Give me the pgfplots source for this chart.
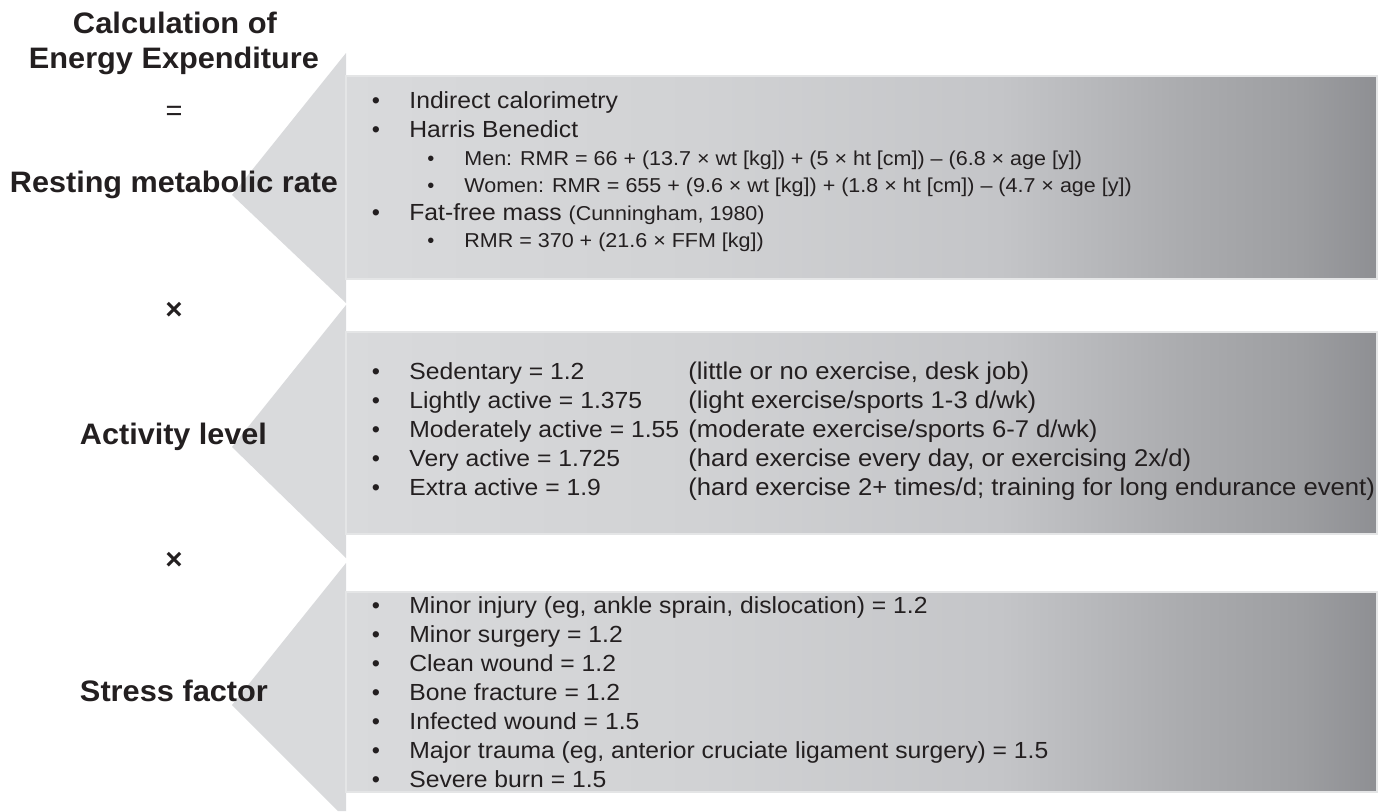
\documentclass[border=0pt]{standalone}
\usepackage{fontspec}
\setmainfont{Liberation Sans}
\usepackage{graphicx}
\usepackage{pgfplots}
\pgfplotsset{compat=1.18}
\definecolor{headgray}{HTML}{D9DADC}
\definecolor{edgegray}{HTML}{E4E5E6}
\definecolor{ga}{HTML}{D9DADC}
\definecolor{gb}{HTML}{D1D2D4}
\definecolor{gc}{HTML}{C4C5C8}
\definecolor{gd}{HTML}{B9BABD}
\definecolor{ge}{HTML}{ABACAF}
\definecolor{gf}{HTML}{9D9EA1}
\definecolor{gg}{HTML}{8E8F93}
\definecolor{txt}{HTML}{231F20}
\pgfdeclarehorizontalshading{bodyshade}{100bp}{color(0bp)=(ga); color(25bp)=(ga); color(42bp)=(gb); color(56.7bp)=(gc); color(60.6bp)=(gd); color(65.4bp)=(ge); color(71.3bp)=(gf); color(75bp)=(gg); color(100bp)=(gg)}
\newcommand{\bodyf}{\fontsize{11.65}{13}\selectfont}
\newcommand{\subf}{\fontsize{10.05}{12}\selectfont}
\newcommand{\colf}{\fontsize{12.1}{14}\selectfont}
\newcommand{\titf}{\fontsize{14.8}{18}\selectfont\bfseries}
% main-level line, sub-level line, second column line (slightly wide face)
\newcommand{\LT}[1]{\scalebox{1.06}[1]{\bodyf #1}}
\newcommand{\ST}[1]{\scalebox{1.07}[1]{\subf #1}}
\newcommand{\CT}[1]{\scalebox{1.06}[1]{\colf #1}}
\newcommand{\TT}[2]{\resizebox{#1}{\height}{\titf #2}}
\begin{document}
\begin{tikzpicture}
\begin{axis}[width=691.5pt, height=405.5pt, scale only axis,
  xmin=0, xmax=1383, ymin=0, ymax=811, y dir=reverse,
  hide axis, clip=true]
% arrow heads
\addplot[draw=none, fill=headgray] coordinates {(346,53) (232,195) (346,303)} -- cycle;
\addplot[draw=none, fill=headgray] coordinates {(346,305) (232,447) (346,558)} -- cycle;
\addplot[draw=none, fill=headgray] coordinates {(346,563) (232,705) (338,811) (346,811)} -- cycle;
% arrow bodies
\addplot[draw=edgegray, line width=0.6pt, shading=bodyshade] coordinates {(346,76) (1377,76) (1377,279) (346,279)} -- cycle;
\addplot[draw=edgegray, line width=0.6pt, shading=bodyshade] coordinates {(346,332) (1377,332) (1377,534) (346,534)} -- cycle;
\addplot[draw=edgegray, line width=0.6pt, shading=bodyshade] coordinates {(346,592) (1377,592) (1377,792) (346,792)} -- cycle;

% left titles
\node[anchor=base, text=txt, inner sep=0pt] at (axis cs:175,33) {\TT{102pt}{Calculation of}};
\node[anchor=base, text=txt, inner sep=0pt] at (axis cs:174,68) {\TT{145pt}{Energy Expenditure}};
\node[font=\fontsize{14.5}{18}\selectfont, text=txt, inner sep=0pt] at (axis cs:174,113) {=};
\node[anchor=base, text=txt, inner sep=0pt] at (axis cs:174,192) {\TT{164pt}{Resting metabolic rate}};
\node[font=\titf, text=txt, inner sep=0pt] at (axis cs:174,311) {×};
\node[anchor=base, text=txt, inner sep=0pt] at (axis cs:173.5,444) {\TT{93.5pt}{Activity level}};
\node[font=\titf, text=txt, inner sep=0pt] at (axis cs:174,561) {×};
\node[anchor=base, text=txt, inner sep=0pt] at (axis cs:174,701) {\TT{94pt}{Stress factor}};

% arrow 1 text
\node[anchor=base, font=\bodyf, text=txt] at (axis cs:376,108) {•};
\node[anchor=base west, text=txt, inner sep=0pt] at (axis cs:409,108) {\LT{Indirect calorimetry}};
\node[anchor=base, font=\bodyf, text=txt] at (axis cs:376,137) {•};
\node[anchor=base west, text=txt, inner sep=0pt] at (axis cs:409,137) {\LT{Harris Benedict}};
\node[anchor=base, font=\subf, text=txt] at (axis cs:431,165) {•};
\node[anchor=base west, text=txt, inner sep=0pt] at (axis cs:464,165) {\ST{Men: RMR = 66 + (13.7 × wt [kg]) + (5 × ht [cm]) – (6.8 × age [y])}};
\node[anchor=base, font=\subf, text=txt] at (axis cs:431,192) {•};
\node[anchor=base west, text=txt, inner sep=0pt] at (axis cs:464,192) {\ST{Women: RMR = 655 + (9.6 × wt [kg]) + (1.8 × ht [cm]) – (4.7 × age [y])}};
\node[anchor=base, font=\bodyf, text=txt] at (axis cs:376,220) {•};
\node[anchor=base west, text=txt, inner sep=0pt] at (axis cs:409,220) {\LT{Fat-free mass }\ST{(Cunningham, 1980)}};
\node[anchor=base, font=\subf, text=txt] at (axis cs:431,247) {•};
\node[anchor=base west, text=txt, inner sep=0pt] at (axis cs:464,247) {\ST{RMR = 370 + (21.6 × FFM [kg])}};

% arrow 2 text
\node[anchor=base, font=\bodyf, text=txt] at (axis cs:376,379) {•};
\node[anchor=base west, text=txt, inner sep=0pt] at (axis cs:409,379) {\LT{Sedentary = 1.2}};
\node[anchor=base west, text=txt, inner sep=0pt] at (axis cs:688,379) {\CT{(little or no exercise, desk job)}};
\node[anchor=base, font=\bodyf, text=txt] at (axis cs:376,408) {•};
\node[anchor=base west, text=txt, inner sep=0pt] at (axis cs:409,408) {\LT{Lightly active = 1.375}};
\node[anchor=base west, text=txt, inner sep=0pt] at (axis cs:688,408) {\CT{(light exercise/sports 1-3 d/wk)}};
\node[anchor=base, font=\bodyf, text=txt] at (axis cs:376,437) {•};
\node[anchor=base west, text=txt, inner sep=0pt] at (axis cs:409,437) {\LT{Moderately active = 1.55}};
\node[anchor=base west, text=txt, inner sep=0pt] at (axis cs:688,437) {\CT{(moderate exercise/sports 6-7 d/wk)}};
\node[anchor=base, font=\bodyf, text=txt] at (axis cs:376,466) {•};
\node[anchor=base west, text=txt, inner sep=0pt] at (axis cs:409,466) {\LT{Very active = 1.725}};
\node[anchor=base west, text=txt, inner sep=0pt] at (axis cs:688,466) {\CT{(hard exercise every day, or exercising 2x/d)}};
\node[anchor=base, font=\bodyf, text=txt] at (axis cs:376,495) {•};
\node[anchor=base west, text=txt, inner sep=0pt] at (axis cs:409,495) {\LT{Extra active = 1.9}};
\node[anchor=base west, text=txt, inner sep=0pt] at (axis cs:688,495) {\CT{(hard exercise 2+ times/d; training for long endurance event)}};

% arrow 3 text
\node[anchor=base, font=\bodyf, text=txt] at (axis cs:376,613) {•};
\node[anchor=base west, text=txt, inner sep=0pt] at (axis cs:409,613) {\LT{Minor injury (eg, ankle sprain, dislocation) = 1.2}};
\node[anchor=base, font=\bodyf, text=txt] at (axis cs:376,642) {•};
\node[anchor=base west, text=txt, inner sep=0pt] at (axis cs:409,642) {\LT{Minor surgery = 1.2}};
\node[anchor=base, font=\bodyf, text=txt] at (axis cs:376,671) {•};
\node[anchor=base west, text=txt, inner sep=0pt] at (axis cs:409,671) {\LT{Clean wound = 1.2}};
\node[anchor=base, font=\bodyf, text=txt] at (axis cs:376,700) {•};
\node[anchor=base west, text=txt, inner sep=0pt] at (axis cs:409,700) {\LT{Bone fracture = 1.2}};
\node[anchor=base, font=\bodyf, text=txt] at (axis cs:376,729) {•};
\node[anchor=base west, text=txt, inner sep=0pt] at (axis cs:409,729) {\LT{Infected wound = 1.5}};
\node[anchor=base, font=\bodyf, text=txt] at (axis cs:376,758) {•};
\node[anchor=base west, text=txt, inner sep=0pt] at (axis cs:409,758) {\LT{Major trauma (eg, anterior cruciate ligament surgery) = 1.5}};
\node[anchor=base, font=\bodyf, text=txt] at (axis cs:376,787) {•};
\node[anchor=base west, text=txt, inner sep=0pt] at (axis cs:409,787) {\LT{Severe burn = 1.5}};
\end{axis}
\pgfresetboundingbox
\path (current axis.south west) rectangle (current axis.north east);
\end{tikzpicture}
\end{document}
